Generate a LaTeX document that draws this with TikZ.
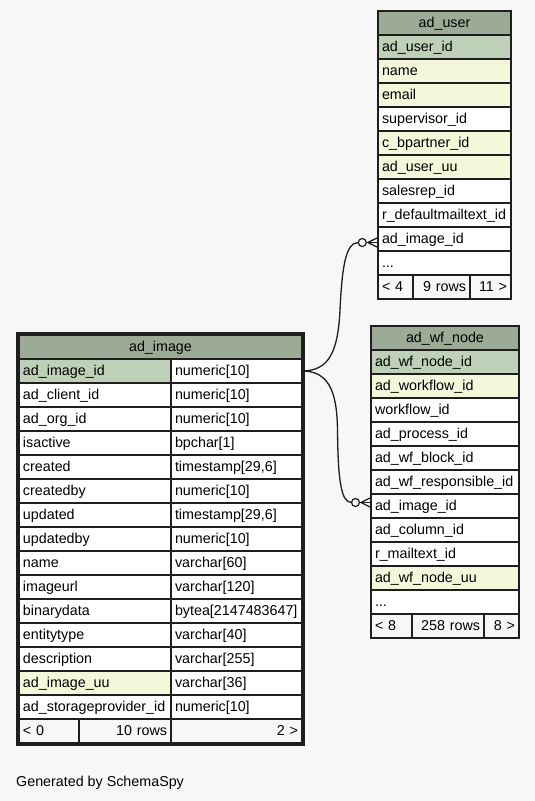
\documentclass[tikz,border=0pt]{standalone}
\usepackage{fontspec}
\setmainfont{Liberation Sans}
\usetikzlibrary{calc}
\definecolor{bgc}{HTML}{F7F7F7}
\definecolor{headc}{HTML}{9BAB96}
\definecolor{pkc}{HTML}{BED1B8}
\definecolor{ixc}{HTML}{F4F7DA}
\definecolor{linec}{HTML}{1E1E1E}
\tikzset{
  cell/.style={draw=linec, line width=1.4pt, fill=white, anchor=north west, outer sep=0pt,
    inner xsep=4pt, inner ysep=0pt, minimum height=24pt, text height=11pt, text depth=2pt,
    align=left, font=\fontsize{14.3}{16}\selectfont},
  tw/.style={text width=#1pt},
  head/.style={cell, fill=headc, align=center},
  pk/.style={cell, fill=pkc},
  ix/.style={cell, fill=ixc},
  ft/.style={cell, fill=bgc},
  ftr/.style={ft, align=right},
  conn/.style={draw=linec, line width=1.3pt},
  odot/.style={circle, draw=linec, line width=1.2pt, fill=bgc, minimum size=8pt, inner sep=0pt, outer sep=0pt},
  frame/.style={draw=linec, line width=3pt}
}
\begin{document}
\begin{tikzpicture}[x=1pt,y=-1pt]
\fill[bgc] (0,0) rectangle (535,801);
\useasboundingbox (0,0) rectangle (535,801);

% ad_user
\node[head,tw=125] (uh) at (378,11) {ad\_user};
\node[pk,tw=125] (u1) at (378,35) {ad\_user\_id};
\node[ix,tw=125] (u2) at (378,59) {name};
\node[ix,tw=125] (u3) at (378,83) {email};
\node[cell,tw=125] (u4) at (378,107) {supervisor\_id};
\node[ix,tw=125] (u5) at (378,131) {c\_bpartner\_id};
\node[ix,tw=125] (u6) at (378,155) {ad\_user\_uu};
\node[cell,tw=125] (u7) at (378,179) {salesrep\_id};
\node[cell,tw=125] (u8) at (378,203) {r\_defaultmailtext\_id};
\node[cell,tw=125] (u9) at (378,227) {ad\_image\_id};
\node[cell,tw=125] (u10) at (378,251) {...};
\node[ft,tw=27] (uf1) at (378,275) {< 4};
\node[ftr,tw=49] (uf2) at (413,275) {9 rows};
\node[ftr,tw=33] (uf3) at (470,275) {11 >};

% ad_wf_node
\node[head,tw=140] (wh) at (371,326) {ad\_wf\_node};
\node[pk,tw=140] (w1) at (371,350) {ad\_wf\_node\_id};
\node[ix,tw=140] (w2) at (371,374) {ad\_workflow\_id};
\node[cell,tw=140] (w3) at (371,398) {workflow\_id};
\node[cell,tw=140] (w4) at (371,422) {ad\_process\_id};
\node[cell,tw=140] (w5) at (371,446) {ad\_wf\_block\_id};
\node[cell,tw=140] (w6) at (371,470) {ad\_wf\_responsible\_id};
\node[cell,tw=140] (w7) at (371,494) {ad\_image\_id};
\node[cell,tw=140] (w8) at (371,518) {ad\_column\_id};
\node[cell,tw=140] (w9) at (371,542) {r\_mailtext\_id};
\node[ix,tw=140] (w10) at (371,566) {ad\_wf\_node\_uu};
\node[cell,tw=140] (w11) at (371,590) {...};
\node[ft,tw=33] (wf1) at (371,614) {< 8};
\node[ftr,tw=64] (wf2) at (412,614) {258 rows};
\node[ftr,tw=27] (wf3) at (484,614) {8 >};

% ad_image
\node[head,tw=275] (ih) at (19,335) {ad\_image};
\node[pk,tw=144] (i1n) at (19,359) {ad\_image\_id};
\node[cell,tw=123] (i1t) at (171,359) {numeric[10]};
\node[cell,tw=144] (i2n) at (19,383) {ad\_client\_id};
\node[cell,tw=123] (i2t) at (171,383) {numeric[10]};
\node[cell,tw=144] (i3n) at (19,407) {ad\_org\_id};
\node[cell,tw=123] (i3t) at (171,407) {numeric[10]};
\node[cell,tw=144] (i4n) at (19,431) {isactive};
\node[cell,tw=123] (i4t) at (171,431) {bpchar[1]};
\node[cell,tw=144] (i5n) at (19,455) {created};
\node[cell,tw=123] (i5t) at (171,455) {timestamp[29,6]};
\node[cell,tw=144] (i6n) at (19,479) {createdby};
\node[cell,tw=123] (i6t) at (171,479) {numeric[10]};
\node[cell,tw=144] (i7n) at (19,503) {updated};
\node[cell,tw=123] (i7t) at (171,503) {timestamp[29,6]};
\node[cell,tw=144] (i8n) at (19,527) {updatedby};
\node[cell,tw=123] (i8t) at (171,527) {numeric[10]};
\node[cell,tw=144] (i9n) at (19,551) {name};
\node[cell,tw=123] (i9t) at (171,551) {varchar[60]};
\node[cell,tw=144] (i10n) at (19,575) {imageurl};
\node[cell,tw=123] (i10t) at (171,575) {varchar[120]};
\node[cell,tw=144] (i11n) at (19,599) {binarydata};
\node[cell,tw=123] (i11t) at (171,599) {bytea[2147483647]};
\node[cell,tw=144] (i12n) at (19,623) {entitytype};
\node[cell,tw=123] (i12t) at (171,623) {varchar[40]};
\node[cell,tw=144] (i13n) at (19,647) {description};
\node[cell,tw=123] (i13t) at (171,647) {varchar[255]};
\node[ix,tw=144] (i14n) at (19,671) {ad\_image\_uu};
\node[cell,tw=123] (i14t) at (171,671) {varchar[36]};
\node[cell,tw=144] (i15n) at (19,695) {ad\_storageprovider\_id};
\node[cell,tw=123] (i15t) at (171,695) {numeric[10]};
\node[ft,tw=52] (if1) at (19,719) {< 0};
\node[ftr,tw=84] (if2) at (79,719) {10 rows};
\node[ftr,tw=123] (if3) at (171,719) {2 >};

% connectors
\node[odot] (ou) at (362.3,242.5) {};
\node[odot] (ow) at (355.5,502.5) {};
\draw[conn] (i1t.east) .. controls (330,371) and (338,350) .. (340,310)
  .. controls (342,270) and (345,242.5) .. (ou.west);
\draw[conn] (i1t.east) .. controls (328,371) and (337,390) .. (337.5,430)
  .. controls (338,480) and (341,502.5) .. (ow.west);
\coordinate (cu) at ($(ou.east)+(1.5,0)$);
\coordinate (cw) at ($(ow.east)+(1.5,0)$);
\draw[conn] (ou.east) -- (cu);
\draw[conn] (cu) -- (u9.west |- cu);
\draw[conn] (cu) -- ($(u9.west |- cu)+(0,-5)$);
\draw[conn] (cu) -- ($(u9.west |- cu)+(0,5)$);
\draw[conn] (ow.east) -- (cw);
\draw[conn] (cw) -- (w7.west |- cw);
\draw[conn] (cw) -- ($(w7.west |- cw)+(0,-5)$);
\draw[conn] (cw) -- ($(w7.west |- cw)+(0,5)$);

\draw[frame] (17.5,333.5) rectangle (303.5,744.5);

\node[anchor=base west, inner sep=0pt, font=\fontsize{14.3}{16}\selectfont] (gen) at (16,786) {Generated by SchemaSpy};
\end{tikzpicture}
\end{document}
